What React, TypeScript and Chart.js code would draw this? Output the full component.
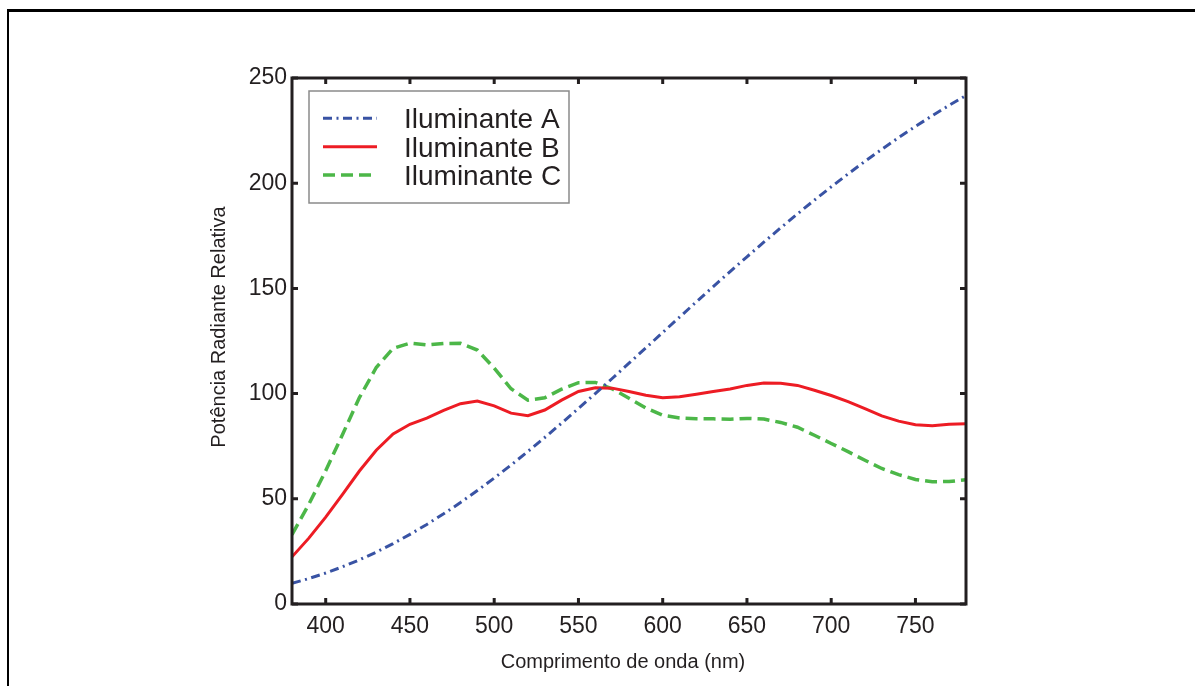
import React, { useEffect, useRef } from "react";
import { Chart, registerables } from "chart.js";

Chart.register(...registerables);

// ---- data (CIE illuminants, 10 nm steps) ----
const wavelengths = [
  380, 390, 400, 410, 420, 430, 440, 450, 460, 470, 480, 490, 500, 510, 520, 530, 540, 550, 560, 570,
  580, 590, 600, 610, 620, 630, 640, 650, 660, 670, 680, 690, 700, 710, 720, 730, 740, 750, 760, 770, 780,
];
const illumA = [
  9.8, 12.09, 14.71, 17.68, 20.99, 24.67, 28.7, 33.09, 37.81, 42.87, 48.24, 53.91, 59.86, 66.06, 72.5,
  79.13, 85.95, 92.91, 100.0, 107.18, 114.44, 121.73, 129.04, 136.35, 143.62, 150.84, 157.98, 165.03,
  171.96, 178.77, 185.43, 191.93, 198.26, 204.41, 210.36, 216.12, 221.67, 227.0, 232.12, 237.01, 241.68,
];
const illumB = [
  22.4, 31.3, 41.3, 52.1, 63.2, 73.1, 80.8, 85.4, 88.3, 92.0, 95.2, 96.5, 94.2, 90.7, 89.5, 92.2, 96.9,
  101.0, 102.8, 102.6, 101.0, 99.2, 98.0, 98.5, 99.7, 101.0, 102.2, 103.9, 105.0, 104.9, 103.9, 101.6,
  99.1, 96.2, 92.9, 89.4, 86.9, 85.2, 84.7, 85.4, 85.7,
];
const illumC = [
  33.0, 47.4, 63.3, 80.6, 98.1, 112.4, 121.5, 124.0, 123.1, 123.8, 123.9, 120.7, 112.1, 102.3, 96.9,
  98.0, 102.1, 105.2, 105.3, 102.3, 97.8, 93.2, 89.7, 88.4, 88.1, 88.0, 87.8, 88.2, 87.9, 86.3, 84.0,
  80.2, 76.3, 72.4, 68.3, 64.4, 61.5, 59.2, 58.1, 58.2, 59.1,
];
const seriesLabels = ["Iluminante A", "Iluminante B", "Iluminante C"];
const xTickValues = [400, 450, 500, 550, 600, 650, 700, 750];
const yTickValues = [0, 50, 100, 150, 200, 250];
const xTitle = "Comprimento de onda (nm)";
const yTitle = "Potência Radiante Relativa";

const FONT = "'Liberation Sans', Arial, Helvetica, sans-serif";
const INK = "#231f20";

const toPoints = (ys: number[]) => wavelengths.map((x, i) => ({ x, y: ys[i] }));

const framePlugin = {
  id: "frameTicks",
  afterDatasetsDraw(chart: any) {
    const { ctx, chartArea: a, scales } = chart;
    const xs = scales.x;
    const ys = scales.y;
    ctx.save();
    ctx.strokeStyle = INK;
    ctx.lineWidth = 3;
    ctx.setLineDash([]);
    const tl = 6;
    ctx.beginPath();
    xTickValues.forEach((v) => {
      const px = xs.getPixelForValue(v);
      ctx.moveTo(px, a.bottom);
      ctx.lineTo(px, a.bottom - tl);
      ctx.moveTo(px, a.top);
      ctx.lineTo(px, a.top + tl);
    });
    yTickValues.forEach((v) => {
      const py = ys.getPixelForValue(v);
      ctx.moveTo(a.left, py);
      ctx.lineTo(a.left + tl, py);
      ctx.moveTo(a.right, py);
      ctx.lineTo(a.right - tl, py);
    });
    ctx.stroke();
    ctx.lineJoin = "miter";
    ctx.strokeRect(a.left, a.top, a.right - a.left, a.bottom - a.top);

    // axis titles
    ctx.fillStyle = INK;
    ctx.font = `20px ${FONT}`;
    ctx.textAlign = "center";
    ctx.textBaseline = "alphabetic";
    ctx.fillText(xTitle, 623, 668);
    ctx.save();
    ctx.translate(225, 327);
    ctx.rotate(-Math.PI / 2);
    ctx.fillText(yTitle, 0, 0);
    ctx.restore();
    ctx.restore();
  },
};

const legendPlugin = {
  id: "insideLegend",
  afterDraw(chart: any) {
    const { ctx } = chart;
    ctx.save();
    const bx = 309, by = 91, bw = 260, bh = 112;
    ctx.fillStyle = "#ffffff";
    ctx.fillRect(bx, by, bw, bh);
    ctx.strokeStyle = "#8a8a8a";
    ctx.lineWidth = 1.5;
    ctx.setLineDash([]);
    ctx.strokeRect(bx, by, bw, bh);
    const fs = 28;
    chart.data.datasets.forEach((ds: any, i: number) => {
      const cy = 118.3 + i * 28.4;
      ctx.strokeStyle = ds.borderColor;
      ctx.lineWidth = ds.borderWidth;
      ctx.setLineDash(ds.borderDash || []);
      ctx.lineCap = "butt";
      ctx.beginPath();
      ctx.moveTo(323, cy);
      ctx.lineTo(377, cy);
      ctx.stroke();
      ctx.setLineDash([]);
      ctx.fillStyle = INK;
      ctx.font = `${fs}px ${FONT}`;
      ctx.textAlign = "left";
      ctx.textBaseline = "alphabetic";
      ctx.fillText(ds.label, 404, cy + fs * 0.358);
    });
    ctx.restore();
  },
};

export default function App() {
  const canvasRef = useRef<HTMLCanvasElement | null>(null);

  useEffect(() => {
    if (!canvasRef.current) return;
    const chart = new Chart(canvasRef.current, {
      type: "line",
      data: {
        datasets: [
          {
            label: seriesLabels[0],
            data: toPoints(illumA),
            borderColor: "#3953a4",
            borderWidth: 3,
            borderDash: [9, 4.5, 2, 4.5],
            pointRadius: 0,
            tension: 0,
            fill: false,
          },
          {
            label: seriesLabels[1],
            data: toPoints(illumB),
            borderColor: "#ed1c24",
            borderWidth: 3,
            borderDash: [],
            pointRadius: 0,
            tension: 0,
            fill: false,
          },
          {
            label: seriesLabels[2],
            data: toPoints(illumC),
            borderColor: "#4cb748",
            borderWidth: 3.5,
            borderDash: [12, 6],
            pointRadius: 0,
            tension: 0,
            fill: false,
          },
        ],
      },
      options: {
        animation: false,
        responsive: true,
        maintainAspectRatio: false,
        layout: { padding: { left: 0, top: 78, right: 229, bottom: 0 } },
        plugins: { legend: { display: false }, tooltip: { enabled: false } },
        scales: {
          x: {
            type: "linear",
            min: 380,
            max: 780,
            afterBuildTicks: (s: any) => {
              s.ticks = xTickValues.map((v) => ({ value: v }));
            },
            afterFit: (s: any) => {
              s.height = 82;
            },
            grid: { display: true, drawOnChartArea: false, drawTicks: false, color: "rgba(0,0,0,0)" },
            border: { display: false },
            ticks: {
              color: INK,
              font: { family: FONT, size: 23 },
              padding: 9,
              maxRotation: 0,
              autoSkip: false,
            },
          },
          y: {
            type: "linear",
            min: 0,
            max: 250,
            afterBuildTicks: (s: any) => {
              s.ticks = yTickValues.map((v) => ({ value: v }));
            },
            afterFit: (s: any) => {
              s.width = 292;
            },
            grid: { display: true, drawOnChartArea: false, drawTicks: false, color: "rgba(0,0,0,0)" },
            border: { display: false },
            ticks: {
              color: INK,
              font: { family: FONT, size: 23 },
              padding: 5,
              autoSkip: false,
            },
          },
        },
      },
      plugins: [framePlugin, legendPlugin],
    });
    return () => chart.destroy();
  }, []);

  return (
    <div style={{ position: "absolute", left: 0, top: 0, width: 1195, height: 686, background: "#fff", overflow: "hidden" }}>
      <div
        style={{
          position: "absolute",
          left: 7,
          top: 9,
          width: 1195,
          height: 686,
          borderTop: "3px solid #000",
          borderLeft: "2.5px solid #000",
          boxSizing: "border-box",
        }}
      />
      <div style={{ position: "absolute", left: 0, top: 0, width: 1195, height: 686 }}>
        <canvas ref={canvasRef} />
      </div>
    </div>
  );
}
